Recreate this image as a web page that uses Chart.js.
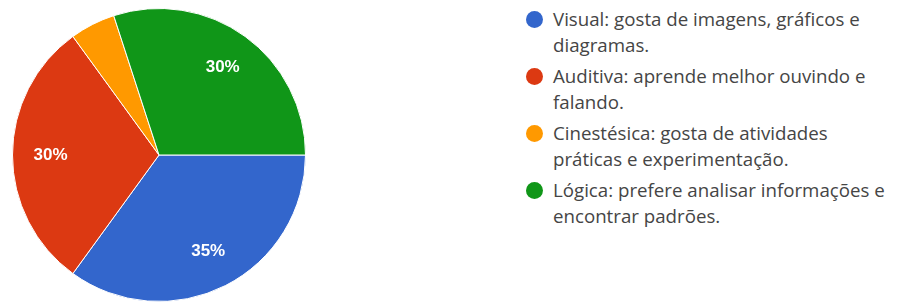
<!DOCTYPE html>
<html>
<head>
<meta charset="utf-8">
<script src="https://cdn.jsdelivr.net/npm/chart.js@4"></script>
<style>
  body { margin: 0; background: #fff; width: 897px; height: 302px; overflow: hidden; position: relative; }
  #wrap { position: absolute; left: 0; top: 0; width: 318px; height: 302px; }
  #legenda { position: absolute; left: 525px; top: 6px; font-family: "Open Sans", sans-serif; font-size: 18.7px; color: #454545; }
  .item { position: relative; padding-left: 28px; line-height: 26px; margin-bottom: 5px; white-space: nowrap; }
  .bola { position: absolute; left: 1px; top: 5px; width: 17px; height: 17px; border-radius: 50%; }
</style>
</head>
<body>
<div id="wrap"><canvas id="grafico"></canvas></div>
<div id="legenda"></div>
<script>
// dados
const categorias = [
    ["Visual: gosta de imagens, gráficos e", "diagramas."],
    ["Auditiva: aprende melhor ouvindo e", "falando."],
    ["Cinestésica: gosta de atividades", "práticas e experimentação."],
    ["Lógica: prefere analisar informações e", "encontrar padrões."]
];
const valores = [35, 30, 5, 30];
const cores = ["#3366cc", "#dc3912", "#ff9900", "#109618"];

// escreve as porcentagens dentro das fatias
const rotulosFatias = {
    id: "rotulosFatias",
    afterDatasetsDraw(chart) {
        const ctx = chart.ctx;
        const meta = chart.getDatasetMeta(0);
        const total = valores.reduce((a, b) => a + b, 0);
        ctx.save();
        ctx.fillStyle = "#fff";
        ctx.font = "bold 17px 'Liberation Sans', Arial, sans-serif";
        ctx.textAlign = "center";
        ctx.textBaseline = "middle";
        meta.data.forEach((arc, i) => {
            const pct = Math.round(valores[i] / total * 100);
            if (pct < 10) return;
            const a = (arc.startAngle + arc.endAngle) / 2;
            const r = arc.outerRadius * 0.74;
            ctx.fillText(pct + "%", arc.x + Math.cos(a) * r, arc.y + Math.sin(a) * r);
        });
        ctx.restore();
    }
};

const chart = new Chart(document.getElementById("grafico").getContext("2d"), {
    type: "pie",
    data: {
        labels: categorias,
        datasets: [{
            data: valores,
            backgroundColor: cores,
            borderColor: "#fff",
            borderWidth: 1
        }]
    },
    options: {
        responsive: true,
        maintainAspectRatio: false,
        animation: false,
        rotation: 90,
        layout: { padding: { top: 8, bottom: 0, left: 12, right: 12 } },
        plugins: {
            legend: { display: false },
            tooltip: { enabled: false }
        }
    },
    plugins: [rotulosFatias]
});

// legenda em html, com as quebras de linha do original
const legenda = document.getElementById("legenda");
chart.data.labels.forEach((linhas, i) => {
    const div = document.createElement("div");
    div.className = "item";
    div.innerHTML = '<span class="bola" style="background:' + cores[i] + '"></span>' + linhas.join("<br>");
    legenda.appendChild(div);
});
</script>
</body>
</html>
